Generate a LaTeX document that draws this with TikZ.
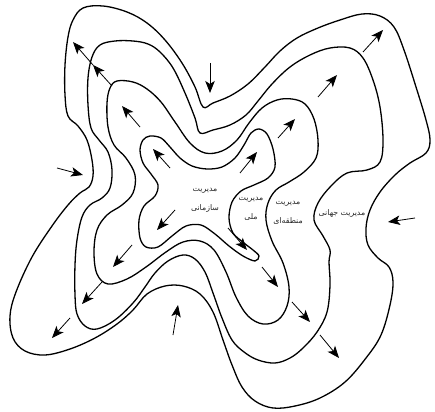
\documentclass[tikz,border=0pt]{standalone}
\usepackage{fontspec}
\newfontfamily\farsifont[Script=Arabic]{DejaVu Sans}
\TeXXeTstate=1
\usepackage{tikz}
\usetikzlibrary{arrows.meta}
\tikzset{
  ring/.style={
    line width=1.3pt,
    draw=black,
    line join=round
  },
  arrow/.style={
    -{Stealth[length=12pt,width=9.5pt,inset=3pt]},
    line width=0.8pt,
    draw=black
  },
  tag/.style={
    font=\farsifont\fontsize{7.8}{19}\selectfont,
    text=black!85,
    align=center,
    inner sep=1pt
  }
}

\begin{document}
\begin{tikzpicture}[x=1pt, y=-1pt]
  \useasboundingbox (0,0) rectangle (435,411);

  % global ring
  \draw[ring] plot[smooth cycle, tension=0.6] coordinates {
    (83,8) (103,6) (127,12) (147,23) (165,40) (182,63) (195,87) (203,107)
    (213,103) (230,96) (248,84) (265,67) (280,51) (297,38) (318,28) (340,20)
    (362,14) (380,16) (394,27) (404,50) (416,87) (426,120) (430,140) (426,153)
    (410,163) (395,175) (380,192) (370,210) (366,228) (368,245) (378,258)
    (389,267) (393,282) (390,305) (381,335) (366,358) (345,382) (320,398)
    (295,406) (273,408) (255,401) (242,387) (232,365) (223,340) (213,312)
    (200,294) (183,286) (165,286) (147,294) (133,310) (117,324) (95,338)
    (70,349) (45,355) (25,351) (13,338) (10,316) (16,292) (32,257) (52,226)
    (68,205) (80,193) (89,187) (93,176) (92,160) (87,140) (78,126) (68,116)
    (65,95) (65,65) (68,37) (73,20)};
  % regional ring
  \draw[ring] plot[smooth cycle, tension=0.6] coordinates {
    (100,45) (115,41) (133,41) (148,44) (160,52) (173,68) (185,93) (195,118)
    (200,133) (213,130) (230,125) (246,115) (258,101) (272,84) (290,67)
    (310,55) (330,48) (350,48) (363,58) (373,80) (380,107) (383,140)
    (380,162) (367,170) (347,173) (331,186) (318,203) (314,220) (323,236)
    (330,250) (329,262) (330,285) (327,312) (317,332) (303,348) (290,358)
    (275,363) (258,360) (244,352) (232,340) (222,318) (213,293) (205,272)
    (195,259) (183,255) (168,261) (155,273) (145,287) (133,303) (115,320)
    (97,329) (85,326) (77,314) (75,295) (75,265) (77,240) (82,217) (90,205)
    (102,198) (110,188) (112,170) (108,152) (99,140) (91,128) (88,105)
    (88,78) (92,57)};
  % national ring
  \draw[ring] plot[smooth cycle, tension=0.6] coordinates {
    (117,81) (133,82) (147,89) (161,102) (175,122) (190,143) (205,153)
    (222,151) (237,140) (249,123) (262,108) (277,100) (292,99) (305,104)
    (314,119) (318,140) (316,158) (304,172) (289,182) (276,190) (268,203)
    (266,220) (272,241) (283,263) (289,287) (287,306) (278,320) (263,324)
    (248,316) (236,297) (226,272) (214,250) (200,241) (183,242) (166,252)
    (146,267) (127,279) (108,284) (97,274) (94,252) (97,230) (107,215)
    (122,205) (133,193) (135,175) (126,158) (114,145) (108,127) (107,103)
    (110,88)};
  % organisational ring
  \draw[ring] plot[smooth cycle, tension=0.55] coordinates {
    (150,136) (161,138) (170,147) (180,158) (192,166) (207,169) (222,167)
    (235,158) (244,145) (251,133) (259,129) (267,134) (273,149) (275,167)
    (268,178) (254,185) (241,191) (232,202) (229,218) (233,233) (244,243)
    (253,250) (259,256) (255,261) (243,256) (229,246) (215,234) (201,225)
    (186,226) (172,236) (158,247) (146,247) (140,238) (139,220) (144,206)
    (155,196) (158,185) (151,174) (143,163) (140,150) (143,140)};

  % outward arrows
  \draw[arrow] (112,86) -- (93,65);
  \draw[arrow] (93,65) -- (73,42);
  \draw[arrow] (140,127) -- (122,106);
  \draw[arrow] (170,168) -- (153,149);
  \draw[arrow] (240,173) -- (257,152);
  \draw[arrow] (278,138) -- (295,119);
  \draw[arrow] (318,97) -- (337,75);
  \draw[arrow] (363,52) -- (383,30);
  \draw[arrow] (175,210) -- (157,230);
  \draw[arrow] (132,245) -- (113,267);
  \draw[arrow] (102,282) -- (82,304);
  \draw[arrow] (70,318) -- (52,338);
  \draw[arrow] (228,228) -- (247,250);
  \draw[arrow] (262,267) -- (278,287);
  \draw[arrow] (292,302) -- (310,322);
  \draw[arrow] (320,335) -- (339,358);
  % inward arrows
  \draw[arrow] (210,63) -- (210,93);
  \draw[arrow] (57,168) -- (83,175);
  \draw[arrow] (173,335) -- (178,305);
  \draw[arrow] (415,218) -- (388,222);

  % labels
  \node[tag] (sazmani) at (205,200) {\beginR مدیریت\endR\\\beginR سازمانی\endR};
  \node[tag] (melli) at (251,209) {\beginR مدیریت\endR\\\beginR ملی\endR};
  \node[tag] (mantaghei) at (288,213) {\beginR مدیریت\endR\\\beginR منطقه‌ای\endR};
  \node[tag] (jahani) at (342,213) {\beginR مدیریت جهانی\endR};
\end{tikzpicture}
\end{document}
